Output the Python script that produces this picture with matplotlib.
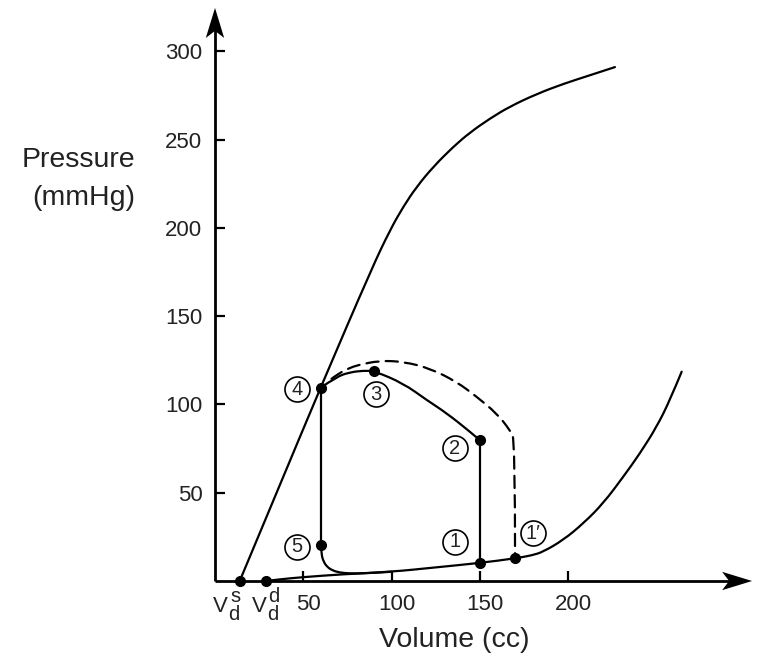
import matplotlib
matplotlib.use("Agg")
import matplotlib.pyplot as plt
from matplotlib.patches import Polygon, PathPatch
from matplotlib.path import Path
import matplotlib.transforms as mtransforms

plt.rcParams['font.family'] = ['Liberation Sans', 'DejaVu Sans']

# ---- data ----
x_ticks = [50, 100, 150, 200]
y_ticks = [50, 100, 150, 200, 250, 300]

# end-systolic pressure-volume relation
espvr_v = [14, 37, 60, 88.8, 99.2, 106.7, 114.3, 123.7, 135.0, 144.5, 155.8, 167.1, 182.3, 197.3, 212.5, 226.6]
espvr_p = [0, 55, 110, 177, 198.8, 212, 223.3, 234.6, 245.9, 254.0, 261.9, 268.7, 275.8, 281.5, 286.4, 291.0]

# end-diastolic pressure-volume relation
edpvr_v = [29, 37, 50, 72, 100, 125, 150, 170, 180, 186, 197.3, 208.7, 220, 231.4, 240.8, 250.3, 257.8, 264.4]
edpvr_p = [0, 1, 2.2, 3.8, 5.2, 7.7, 10.2, 12.8, 14.6, 16.6, 23.2, 32.6, 44, 59.1, 72.3, 87.4, 102.5, 118.5]

# pressure-volume loop (solid), in pieces
ejection_v = [150, 150]                      # 1 -> 2
ejection_p = [10.2, 79.8]
systole_v = [150, 144.5, 131.3, 119.9, 106.7, 90.3, 84, 76.5, 68.9, 60]   # 2 -> 3 -> 4
systole_p = [79.8, 84.5, 95, 102.5, 111.9, 118.9, 119.1, 118.2, 115.7, 109.5]
relax_v = [60, 60]                           # 4 -> 5
relax_p = [109.5, 20.4]
filling_v = [60, 60.3, 61.5, 63.5, 66.5, 70.5, 76, 84, 100]   # 5 -> base
filling_p = [20.4, 15, 11, 8, 6, 4.8, 4.3, 4.3, 5.2]

# larger loop (dashed)
dash_v = [66, 70, 76, 81, 93.5, 106.7, 121.8, 136.9, 148.2, 159.5, 167.1, 170, 170]
dash_p = [114.5, 117.5, 120.5, 122.3, 124.8, 124.2, 120.4, 112.8, 104.4, 95, 85.5, 79.8, 12.8]

# marked points
pt_v = [14, 29, 150, 170, 150, 90.3, 60, 60]
pt_p = [0, 0, 10.2, 12.8, 79.8, 118.9, 109.5, 20.4]

# circled labels
lab_text = ["1", "2", "3", "4", "5", "1\u2032"]
lab_v = [136, 136, 91, 46.3, 46.3, 180.4]
lab_p = [22.3, 75.1, 105.7, 108.5, 19.4, 27.0]

# ---- figure ----
W, H = 770, 658
fig = plt.figure(figsize=(W / 100, H / 100), dpi=100)
x0, y0 = 215, 581
xmax, ymax = 304.3, 324.5
sx, sy = 1.765, 1.766
ax = fig.add_axes([x0 / W, (H - y0) / H, xmax * sx / W, ymax * sy / H])
ax.set_xlim(0, xmax)
ax.set_ylim(0, ymax)
for s in ax.spines.values():
    s.set_visible(False)

lw = 1.6


def smooth(vs, ps, **kw):
    pts = list(zip(vs, ps))
    if len(pts) < 3:
        verts, codes = pts, [Path.MOVETO, Path.LINETO]
    else:
        verts, codes = [pts[0]], [Path.MOVETO]
        for i in range(1, len(pts) - 1):
            mid = ((pts[i][0] + pts[i + 1][0]) / 2, (pts[i][1] + pts[i + 1][1]) / 2)
            if i == len(pts) - 2:
                mid = pts[-1]
            verts += [pts[i], mid]
            codes += [Path.CURVE3, Path.CURVE3]
    ax.add_patch(PathPatch(Path(verts, codes), fill=False, color='black', lw=lw,
                           capstyle='round', joinstyle='round', **kw))


smooth(espvr_v, espvr_p)
smooth(edpvr_v, edpvr_p)
smooth(ejection_v, ejection_p)
smooth(systole_v, systole_p)
smooth(relax_v, relax_p)
smooth(filling_v, filling_p)
smooth(dash_v, dash_p, linestyle=(0, (5.5, 3.2)))
ax.plot(pt_v, pt_p, 'o', color='black', ms=7, clip_on=False, zorder=5)

for t, v, p in zip(lab_text, lab_v, lab_p):
    ax.plot([v], [p], 'o', ms=18, mfc='white', mec='black', mew=1.2, zorder=4)
    ax.text(v, p, t, ha='center', va='center', fontsize=14.5, color='#222222', zorder=6)

# axes lines with arrowheads
alw = 2.0
ax.plot([0, xmax - 8], [0, 0], color='black', lw=alw, clip_on=False, solid_capstyle='butt')
ax.plot([0, 0], [0, ymax - 8], color='black', lw=alw, clip_on=False, solid_capstyle='butt')
hl, hw, notch = 17, 5.2, 13
ax.add_patch(Polygon([[xmax, 0], [xmax - hl, hw], [xmax - notch, 0], [xmax - hl, -hw]],
                     closed=True, color='black', clip_on=False, lw=0))
ax.add_patch(Polygon([[0, ymax], [hw, ymax - hl], [0, ymax - notch], [-hw, ymax - hl]],
                     closed=True, color='black', clip_on=False, lw=0))

# ticks
ax.set_xticks(x_ticks)
ax.set_yticks(y_ticks)
ax.set_xticklabels([str(v) for v in x_ticks])
ax.set_yticklabels([str(v) for v in y_ticks])
ax.tick_params(axis='both', direction='in', length=7, width=1.6, labelsize=16,
               labelcolor='#222222', pad=9)
shift = mtransforms.ScaledTranslation(5 / 100, 0, fig.dpi_scale_trans)
for lbl in ax.get_xticklabels():
    lbl.set_transform(lbl.get_transform() + shift)


# V_d labels with full-size scripts (pixel positions of the reference)
def ptext(x, y, s, size, **kw):
    fig.text(x / W, 1 - y / H, s, fontsize=size, color='#222222', ha='left', va='baseline', **kw)


ptext(213, 612, "V", 16)
ptext(228.5, 620, "d", 14.5)
ptext(230.5, 602, "s", 14.5)
ptext(252, 612, "V", 16)
ptext(267.5, 620, "d", 14.5)
ptext(268.5, 602, "d", 14.5)

fig.text(454 / W, 1 - 640 / H, "Volume (cc)", ha='center', va='center', fontsize=20.5, color='#222222')
fig.text(78 / W, 1 - 160 / H, "Pressure", ha='center', va='center', fontsize=20.5, color='#222222')
fig.text(84 / W, 1 - 198 / H, "(mmHg)", ha='center', va='center', fontsize=20.5, color='#222222')

fig.savefig("out.png", dpi=100)
